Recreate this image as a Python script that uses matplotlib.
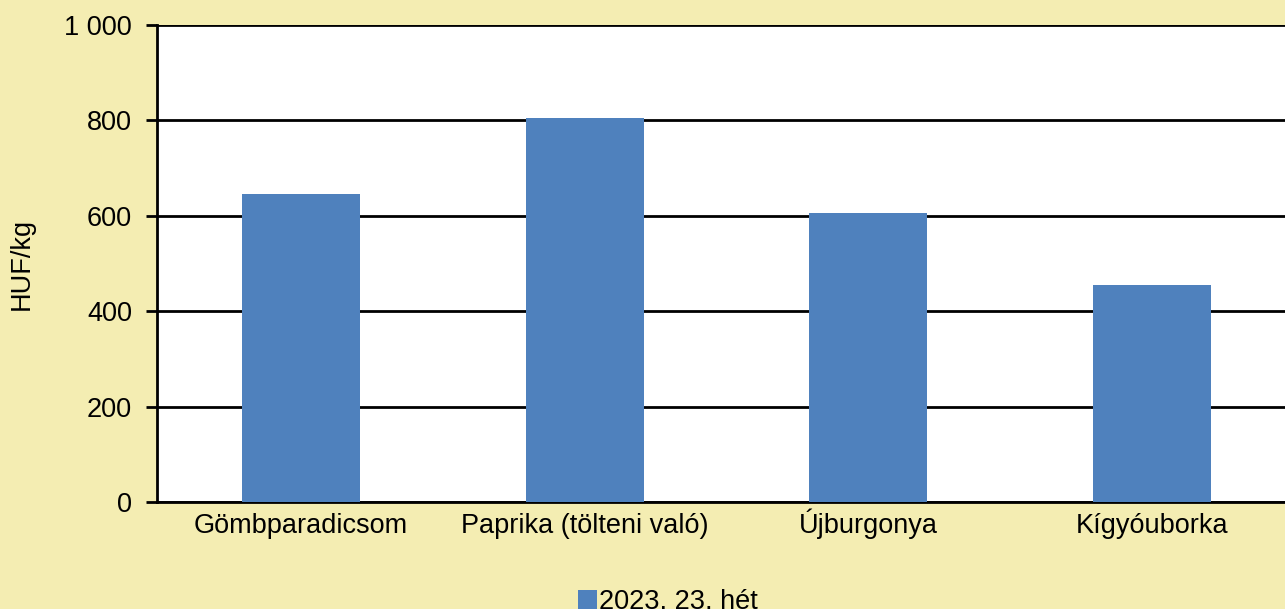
import matplotlib
matplotlib.use("Agg")
import matplotlib.pyplot as plt
import numpy as np

plt.rcParams.update({
    "font.family": ["Liberation Sans", "DejaVu Sans"],
    "font.size": 19.5,
})

BG = "#F4EDB2"
BLUE = "#4F81BD"

categories = ["Gömbparadicsom", "Paprika (tölteni való)", "Újburgonya", "Kígyóuborka"]
prices = [645, 805, 605, 455]
series_label = "2023. 23. hét"
yticks = [0, 200, 400, 600, 800, 1000]
ytick_labels = ["0", "200", "400", "600", "800", "1 000"]

fig = plt.figure(figsize=(12.85, 6.09), dpi=100, facecolor=BG)
ax = fig.add_axes([157 / 1285, 107 / 609, 1135 / 1285, 477 / 609])
ax.set_facecolor("white")

x = np.arange(len(categories))
bars = ax.bar(x, prices, width=0.416, color=BLUE, label=series_label, zorder=3)

ax.set_xlim(-0.507, len(categories) - 0.507)
ax.set_ylim(0, 1000)
ax.set_yticks(yticks)
ax.set_yticklabels(ytick_labels)
ax.set_xticks(x)
ax.set_xticklabels(categories, va="baseline")
ax.tick_params(axis="x", length=0, pad=22)
ax.tick_params(axis="y", length=8, width=2, pad=10, direction="out")

ax.grid(axis="y", color="black", linewidth=2, zorder=1)
ax.set_axisbelow(True)
for side in ["top", "right"]:
    ax.spines[side].set_visible(False)
ax.spines["left"].set_linewidth(2)
ax.spines["bottom"].set_linewidth(2)

ax.set_ylabel("HUF/kg", fontsize=19.5)
ax.yaxis.set_label_coords(-0.108, 0.5)

fig.legend(handles=[bars], labels=[series_label], loc="center",
           bbox_to_anchor=(668 / 1285, 7 / 609), frameon=False,
           handlelength=0.7, handleheight=0.7, handletextpad=0.1,
           fontsize=19.5)

fig.savefig("out.png", dpi=100, facecolor=BG)
